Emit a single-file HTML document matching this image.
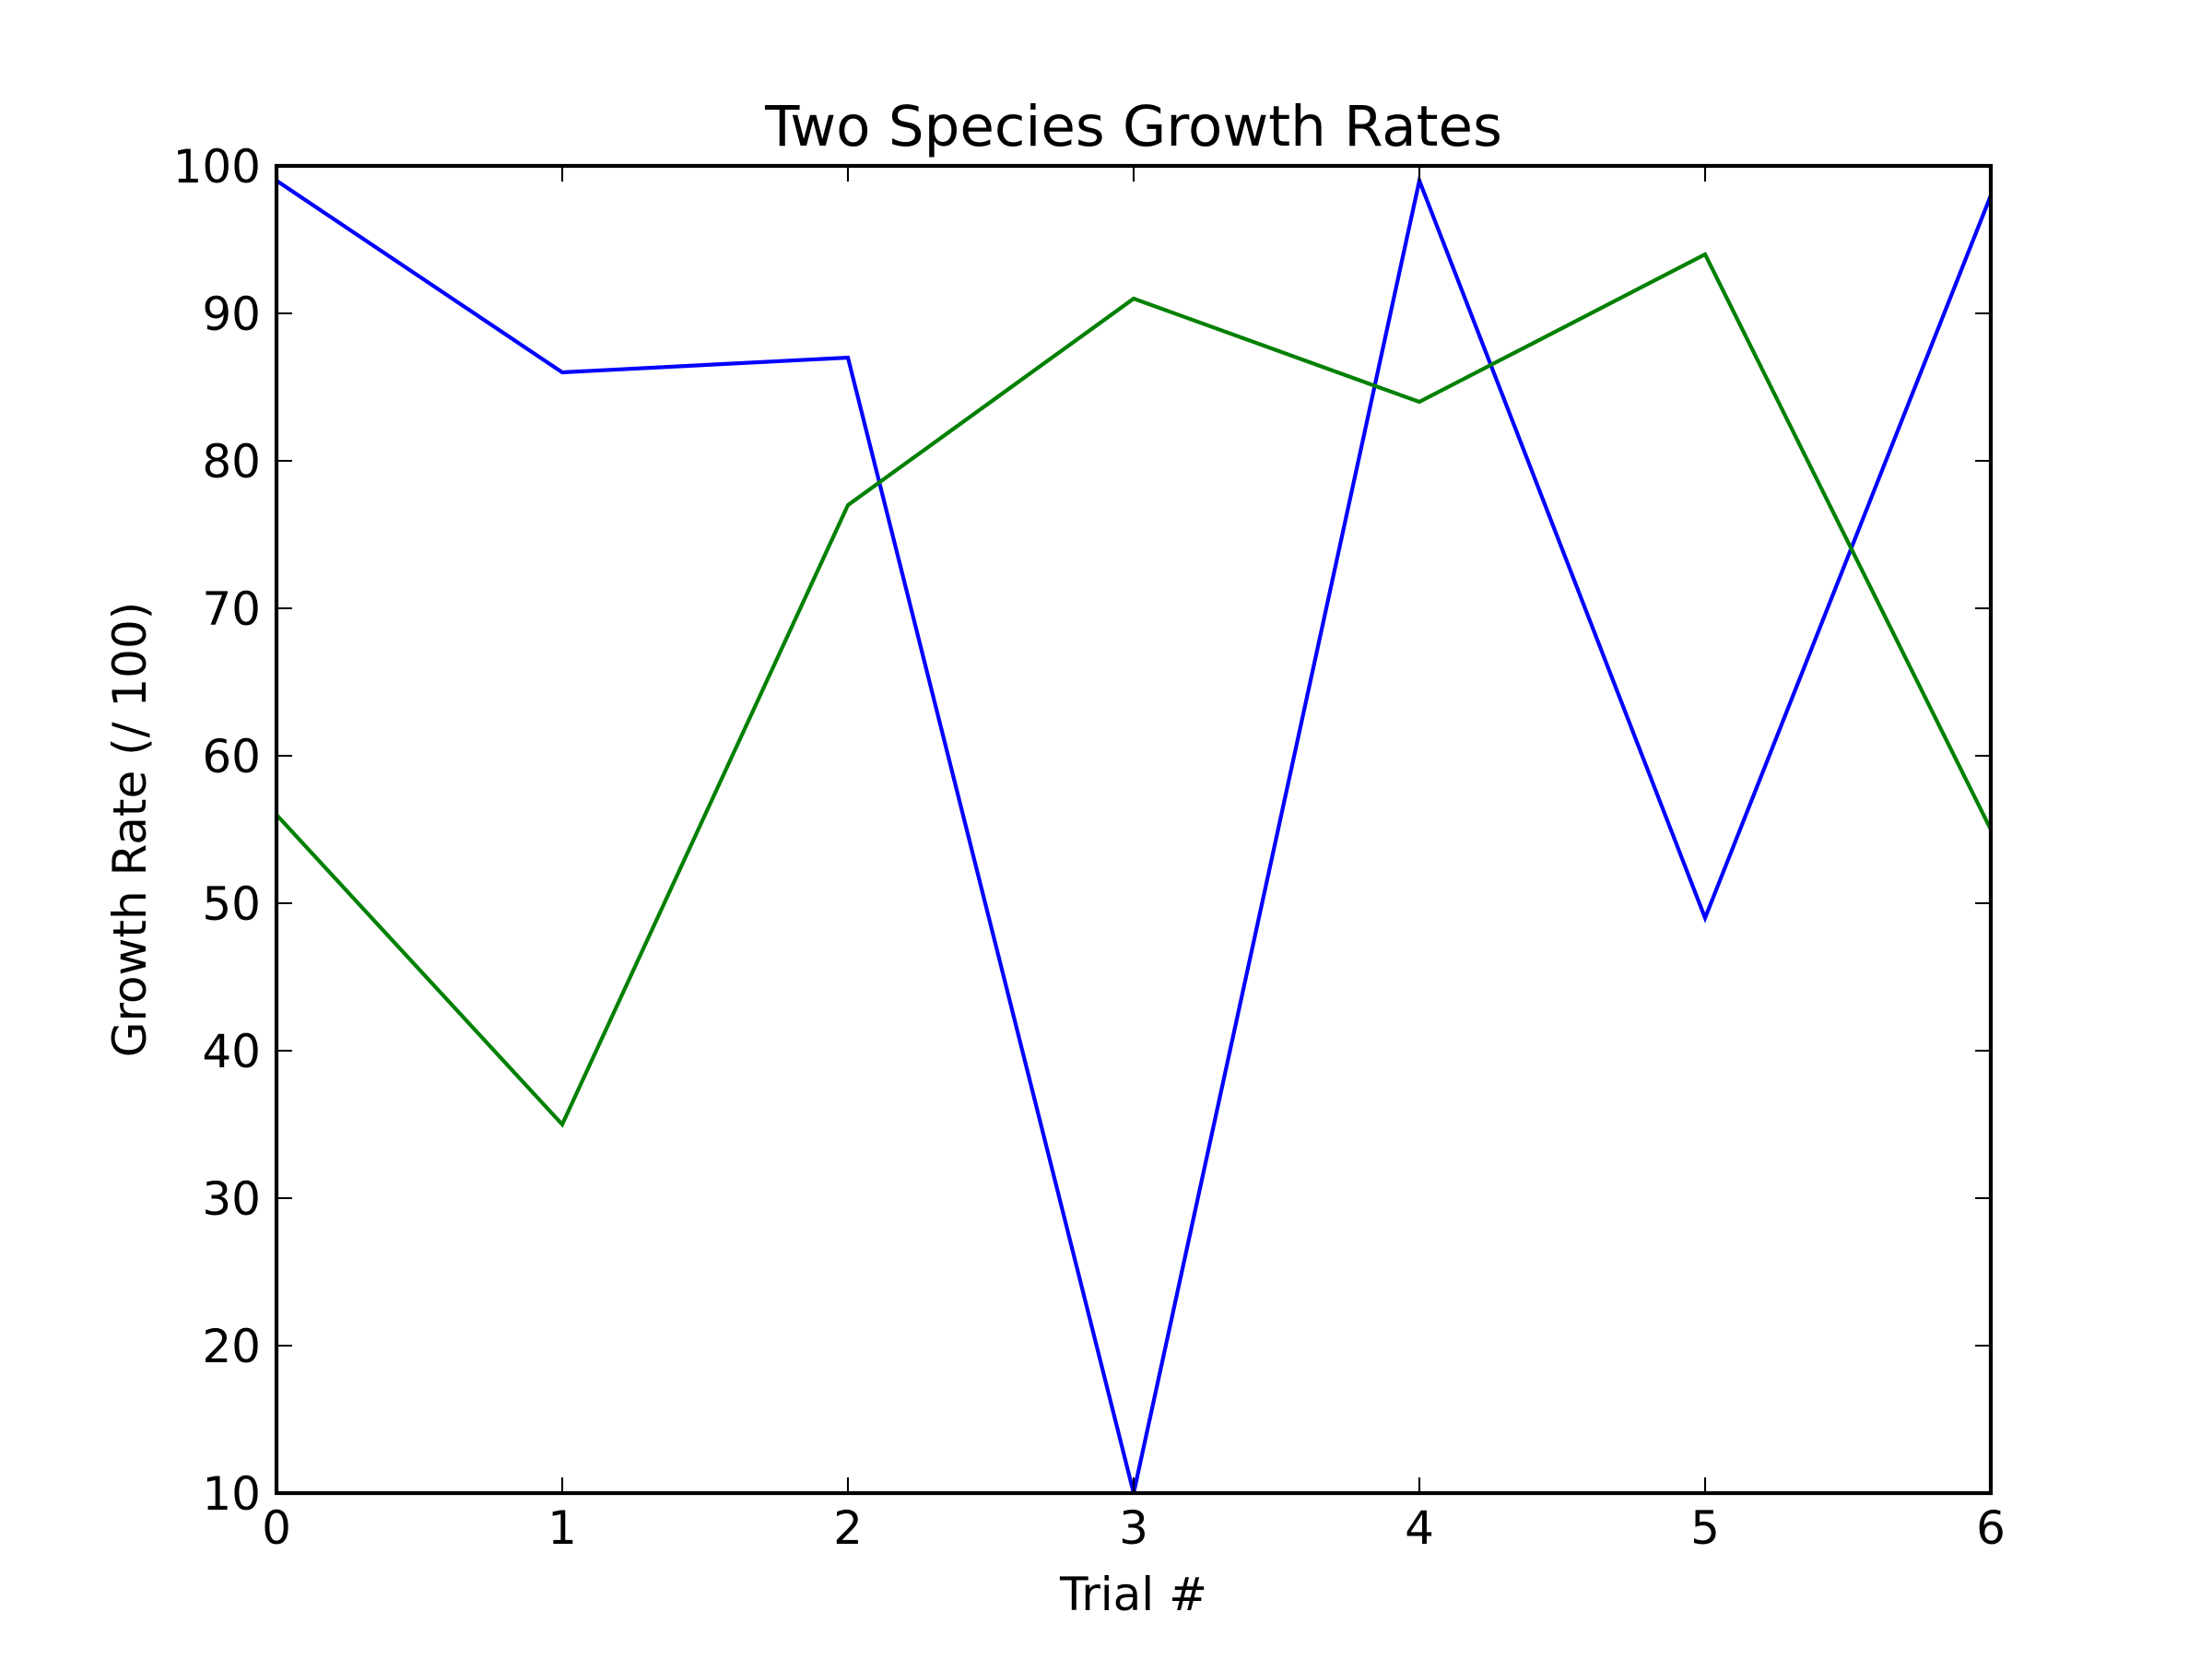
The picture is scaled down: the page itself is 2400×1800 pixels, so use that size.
<!DOCTYPE html>
<html><head><meta charset="utf-8"><style>html,body{margin:0;padding:0;background:#fff}svg{display:block}text{font-family:"DejaVu Sans","Liberation Sans",sans-serif;fill:#000}</style></head>
<body>
<svg id="chart" width="2400" height="1800" viewBox="0 0 2400 1800">
<rect width="2400" height="1800" fill="#fff"/>
<text x="1230" y="158" font-size="61" text-anchor="middle">Two Species Growth Rates</text>
<text x="1230" y="1747" font-size="50" text-anchor="middle">Trial #</text>
<text transform="translate(158,900) rotate(-90)" font-size="50" text-anchor="middle">Growth Rate (/ 100)</text>
</svg>
<script>
const categories = [0,1,2,3,4,5,6];
const speciesA = [99,86,87,10,99,49,98];
const speciesB = [56,35,77,91,84,94,55];
const yTicks = [10,20,30,40,50,60,70,80,90,100];
const xTicks = [0,1,2,3,4,5,6];
const L=300,R=2160,T=180,B=1620;
const sx=v=>L+(v-0)/(6-0)*(R-L);
const sy=v=>B-(v-10)/(100-10)*(B-T);
const NS='http://www.w3.org/2000/svg';
const svg=document.getElementById('chart');
function mk(tag,attrs){const e=document.createElementNS(NS,tag);for(const k in attrs)e.setAttribute(k,attrs[k]);svg.appendChild(e);return e;}
function series(vals,color,name){
  const p=mk('polyline',{points:vals.map((v,i)=>sx(categories[i])+','+sy(v)).join(' '),fill:'none',stroke:color,'stroke-width':4.2,'stroke-linejoin':'miter'});
  
  
}
series(speciesA,'#0000ff','series-species-a');
series(speciesB,'#008000','series-species-b');
const frame=mk('rect',{x:L,y:T,width:R-L,height:B-T,fill:'none',stroke:'#000','stroke-width':4.2});


xTicks.forEach(t=>{
  const x=sx(t);
  const a=mk('line',{x1:x,x2:x,y1:B,y2:B-17,stroke:'#000','stroke-width':2.1});
  
  
  const b=mk('line',{x1:x,x2:x,y1:T,y2:T+17,stroke:'#000','stroke-width':2.1});
  
  
  const l=mk('text',{x:x,y:B+55,'font-size':50,'text-anchor':'middle'});
  l.textContent=t;
  
  
});
yTicks.forEach(t=>{
  const y=sy(t);
  const a=mk('line',{x1:L,x2:L+17,y1:y,y2:y,stroke:'#000','stroke-width':2.1});
  
  
  const b=mk('line',{x1:R,x2:R-17,y1:y,y2:y,stroke:'#000','stroke-width':2.1});
  
  
  const l=mk('text',{x:L-17,y:y+18,'font-size':50,'text-anchor':'end'});
  l.textContent=t;
  
  
});
</script>
</body></html>
